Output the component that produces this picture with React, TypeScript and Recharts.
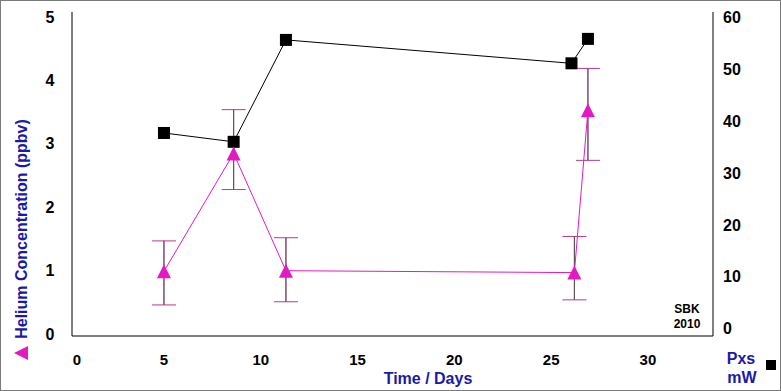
import React from 'react';
import { ComposedChart, Line, XAxis, YAxis, ErrorBar, Customized } from 'recharts';

// helium readings (left axis) with their error bar limits
const heliumDays = [5, 8.6, 11.3, 26.2, 26.9];
const helium = [0.99, 2.85, 1.0, 0.97, 3.53];
const heliumLow = [0.46, 2.28, 0.51, 0.54, 2.74];
const heliumHigh = [1.47, 3.54, 1.52, 1.54, 4.19];

// excess power (right axis)
const powerDays = [5, 8.6, 11.3, 26.05, 26.9];
const power = [37.7, 36.0, 55.6, 51.1, 55.8];

const xTicks = [0, 5, 10, 15, 20, 25, 30];
const leftTicks = [0, 1, 2, 3, 4, 5];
const rightTicks = [0, 10, 20, 30, 40, 50, 60];

const heliumData = heliumDays.map((d, i) => ({
  day: d,
  he: helium[i],
  err: [helium[i] - heliumLow[i], heliumHigh[i] - helium[i]],
}));
const powerData = powerDays.map((d, i) => ({ day: d, pxs: power[i] }));

const FONT = '"Liberation Sans", Arial, sans-serif';
const NAVY = '#1a1aa6';
const MAGENTA = '#e31ac4';

const Triangle = (props: any) => {
  const { cx, cy } = props;
  if (cx == null || cy == null) return null;
  return <polygon points={`${cx},${cy - 7} ${cx - 7},${cy + 7} ${cx + 7},${cy + 7}`} fill={MAGENTA} />;
};

const Square = (props: any) => {
  const { cx, cy } = props;
  if (cx == null || cy == null) return null;
  return <rect x={cx - 6} y={cy - 6} width={12} height={12} fill="#000" />;
};

const XTick = (props: any) => {
  const { x, payload } = props;
  // the 0 label sits just inside the frame
  const px = payload.value === 0 ? 76 : x;
  return (
    <text x={px} y={358} textAnchor="middle" dominantBaseline="central"
      fontFamily={FONT} fontWeight="bold" fontSize={15} fill="#000">{payload.value}</text>
  );
};

const LeftTick = (props: any) => {
  const { y, payload } = props;
  return (
    <text x={49} y={y} textAnchor="middle" dominantBaseline="central"
      fontFamily={FONT} fontWeight="bold" fontSize={16} fill="#000">{payload.value}</text>
  );
};

const RightTick = (props: any) => {
  const { y, payload } = props;
  return (
    <text x={722} y={y} textAnchor="start" dominantBaseline="central"
      fontFamily={FONT} fontWeight="bold" fontSize={16} fill="#000">{payload.value}</text>
  );
};

const Extras = () => (
  <g fontFamily={FONT} fontWeight="bold">
    <text x={20} y={228} transform="rotate(-90 20 228)" textAnchor="middle" dominantBaseline="central"
      fontSize={16} fill={NAVY}>Helium Concentration (ppbv)</text>
    <polygon points="13,352 27,345 27,359" fill={MAGENTA} />
    <text x={427} y={377} textAnchor="middle" dominantBaseline="central" fontSize={16} fill={NAVY}>Time / Days</text>
    <text x={740} y={357} textAnchor="middle" dominantBaseline="central" fontSize={16} fill={NAVY}>Pxs</text>
    <text x={741} y={376} textAnchor="middle" dominantBaseline="central" fontSize={16} fill={NAVY}>mW</text>
    <rect x={765} y={359} width={10} height={10} fill="#000" />
    <text x={686} y={308} textAnchor="middle" dominantBaseline="central" fontSize={12} fill="#000">SBK</text>
    <text x={686} y={323} textAnchor="middle" dominantBaseline="central" fontSize={12} fill="#000">2010</text>
  </g>
);

export default function App() {
  return (
    <div style={{ position: 'absolute', left: 0, top: 0, width: 781, height: 391, boxSizing: 'border-box', border: '1px solid #7a7a7a', background: '#fff' }}>
      <ComposedChart width={779} height={389} margin={{ top: 11, right: 0, bottom: 0, left: -1 }}>
        <XAxis xAxisId="b" dataKey="day" type="number" domain={[0.25, 33.36]} allowDataOverflow ticks={xTicks}
          interval={0} height={54} tickLine={false} axisLine={{ stroke: '#000' }} tick={<XTick />} />
        <XAxis xAxisId="t" orientation="top" type="number" domain={[0.25, 33.36]} allowDataOverflow height={0}
          tick={false} tickLine={false} axisLine={{ stroke: '#000' }} />
        <YAxis yAxisId="l" type="number" domain={[-0.03, 5.08]} ticks={leftTicks} interval={0} width={72}
          tickLine={false} axisLine={{ stroke: '#000' }} tick={<LeftTick />} />
        <YAxis yAxisId="r" orientation="right" type="number" domain={[-1.35, 60.97]} ticks={rightTicks} interval={0} width={67}
          tickLine={false} axisLine={{ stroke: '#000' }} tick={<RightTick />} />
        <Line xAxisId="b" yAxisId="r" data={powerData} dataKey="pxs" stroke="#000" strokeWidth={1}
          dot={<Square />} activeDot={false} isAnimationActive={false} />
        <Line xAxisId="b" yAxisId="l" data={heliumData} dataKey="he" stroke={MAGENTA} strokeWidth={1}
          dot={<Triangle />} activeDot={false} isAnimationActive={false}>
          <ErrorBar dataKey="err" direction="y" width={12} stroke="#b83a8c" strokeWidth={1} isAnimationActive={false} />
          <ErrorBar dataKey="err" direction="y" width={0} stroke="#555" strokeWidth={1} isAnimationActive={false} />
        </Line>
        <Customized component={Extras} />
      </ComposedChart>
    </div>
  );
}
